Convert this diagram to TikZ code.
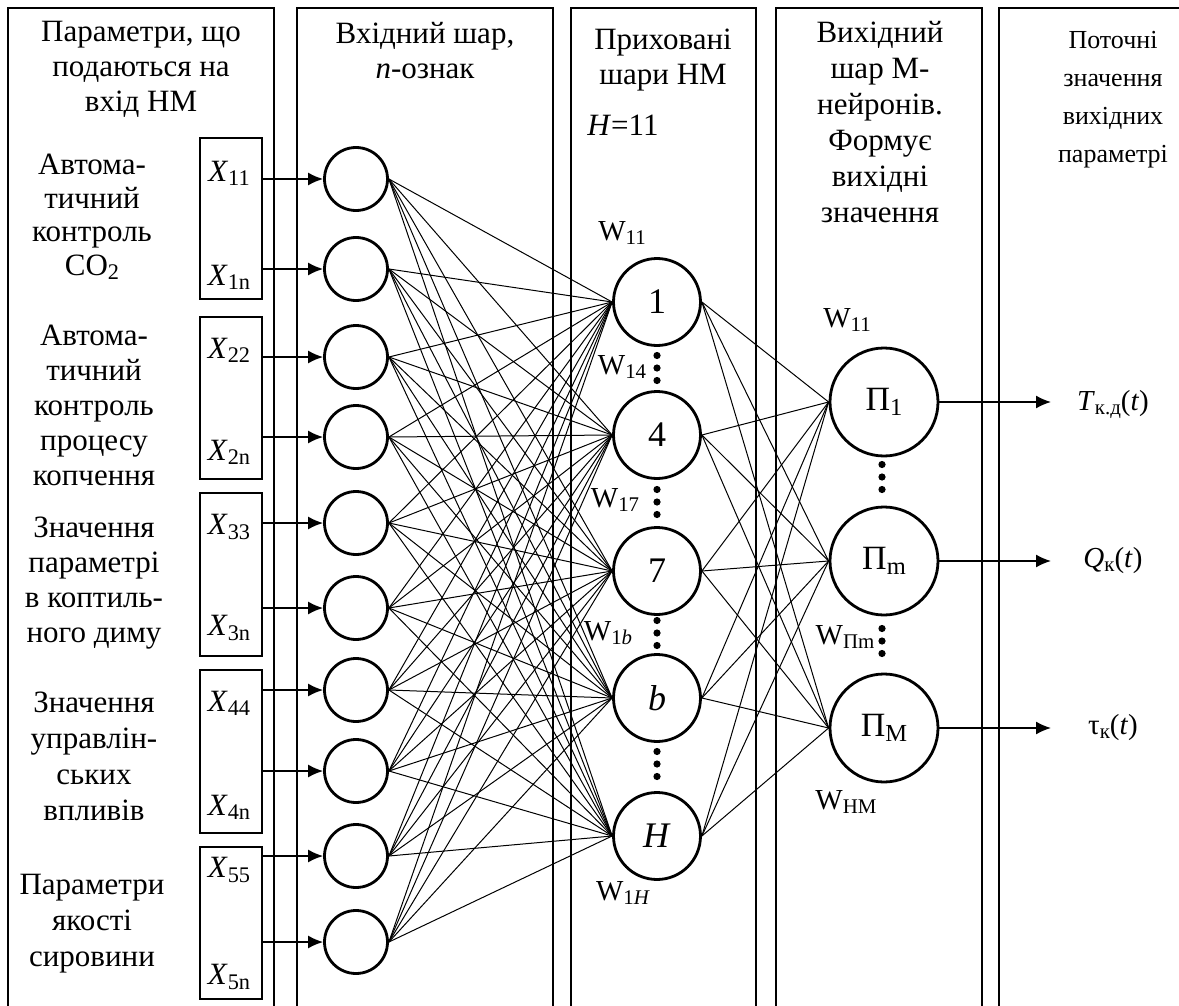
\documentclass[tikz,border=0pt]{standalone}
\usepackage{fontspec}
\setmainfont{Liberation Serif}
\usepackage{tikz}
\usetikzlibrary{arrows.meta}

\makeatletter
\newcommand{\sbs}[1]{\raisebox{-0.3ex}{\fontsize{\fpeval{0.72*\f@size}}{0}\selectfont #1}}
\makeatother

\begin{document}
\begin{tikzpicture}[x=0.5pt,y=-0.5pt,font=\fontsize{15.5}{17.5}\selectfont,
  colbox/.style={draw,line width=1pt},
  xbox/.style={draw,line width=0.9pt,minimum width=31pt,inner sep=0pt},
  inp/.style={circle,draw,line width=1.4pt,minimum size=31.5pt,inner sep=0pt},
  hid/.style={circle,draw,line width=1.4pt,minimum size=43.5pt,inner sep=0pt,font=\fontsize{18}{18}\selectfont},
  outn/.style={circle,draw,line width=1.4pt,minimum size=54pt,inner sep=0pt,font=\fontsize{17}{18}\selectfont},
  wlab/.style={font=\fontsize{14.5}{16}\selectfont},
  link/.style={line width=0.5pt},
  arr/.style={line width=0.8pt,-{Latex[length=7.5pt,width=6.5pt]}},
  dotp/.style={fill=black}]
\useasboundingbox (0,0) rectangle (1179,1006);
\clip (0,0) rectangle (1179,1006);

% columns
\draw[colbox] (8,8) rectangle (274,1040);
\draw[colbox] (297,8) rectangle (553,1040);
\draw[colbox] (571,8) rectangle (756,1040);
\draw[colbox] (776,8) rectangle (982,1040);
\draw[colbox] (999,8) rectangle (1220,1040);

% headings
\node[align=center] (hd1) at (141,69) {Параметри, що\\подаються на\\вхід НМ};
\node[align=center] (hd2) at (425,51) {Вхідний шар,\\\textit{n}-ознак};
\node[align=center] (hd3) at (663,60) {Приховані\\шари НМ};
\node (hnum) at (623,125) {\textit{H}=11};
\node[align=center,font=\fontsize{15.5}{18}\selectfont] (hd4) at (880,122) {Вихідний\\шар М-\\нейронів.\\Формує\\вихідні\\значення};
\node[align=center,font=\fontsize{13}{19}\selectfont] (hd5) at (1113,100) {Поточні\\значення\\вихідних\\параметрі};

% groups of inputs
\node[align=center,font=\fontsize{15.5}{16.8}\selectfont] (g1) at (92,217) {Автома-\\тичний\\контроль\\CO\sbs{2}};
\node[align=center] (g2) at (94,405) {Автома-\\тичний\\контроль\\процесу\\копчення};
\node[align=center] (g3) at (94,583) {Значення\\параметрі\\в коптиль-\\ного диму};
\node[align=center,font=\fontsize{15.5}{18}\selectfont] (g4) at (94,756) {Значення\\управлін-\\ських\\впливів};
\node[align=center,font=\fontsize{15.5}{18}\selectfont] (g5) at (92,924) {Параметри\\якості\\сировини};

% input boxes
\node[xbox,minimum height=80.5pt] (bx1) at (231,218.5) {};
\node[xbox,minimum height=81pt] (bx2) at (231,398) {};
\node[xbox,minimum height=81.5pt] (bx3) at (231,574.5) {};
\node[xbox,minimum height=81.5pt] (bx4) at (231,751.5) {};
\node[xbox,minimum height=76pt] (bx5) at (231,923) {};

\node (x11) at (229,173) {\textit{X}\sbs{11}};
\node (x1n) at (229,277) {\textit{X}\sbs{1n}};
\node (x22) at (229,350) {\textit{X}\sbs{22}};
\node (x2n) at (229,452) {\textit{X}\sbs{2n}};
\node (x33) at (229,527) {\textit{X}\sbs{33}};
\node (x3n) at (229,628) {\textit{X}\sbs{3n}};
\node (x44) at (229,703) {\textit{X}\sbs{44}};
\node (x4n) at (229,807) {\textit{X}\sbs{4n}};
\node (x55) at (229,870) {\textit{X}\sbs{55}};
\node (x5n) at (229,977) {\textit{X}\sbs{5n}};

% input layer
\foreach \y [count=\i] in {179,269,357,437,523,608,690,771,856,942}
  \node[inp] (in\i) at (356,\y) {};

% hidden layer
\node[hid] (h1) at (657,302) {1};
\node[hid] (h4) at (657,435) {4};
\node[hid] (h7) at (657,571) {7};
\node[hid] (hb) at (657,698) {\textit{b}};
\node[hid] (hH) at (657,836) {\textit{H}};

% output layer
\node[outn] (o1) at (884,402) {П\sbs{1}};
\node[outn] (om) at (884,561) {П\sbs{m}};
\node[outn] (oM) at (884,728) {П\sbs{M}};

% box -> input arrows
\foreach \b in {1,...,5}{
  \pgfmathtruncatemacro{\u}{2*\b-1}
  \pgfmathtruncatemacro{\l}{2*\b}
  \draw[arr] (bx\b.east |- in\u.west) -- (in\u.west);
  \draw[arr] (bx\b.east |- in\l.west) -- (in\l.west);
}

% links
\foreach \i in {1,...,10}
  \foreach \j in {1,4,7,b,H}
    \draw[link] (in\i.east) -- (h\j.west);
\foreach \j in {1,4,7,b,H}
  \foreach \k in {1,m,M}
    \draw[link] (h\j.east) -- (o\k.west);

% dots
\foreach \c in {368,502,633,764}
  \foreach \d in {-12.5,0,12.5}
    \fill[dotp] (657,\c+\d) circle (1.8pt);
\foreach \c in {477,641}
  \foreach \d in {-12.5,0,12.5}
    \fill[dotp] (882,\c+\d) circle (1.8pt);

% weights
\node[wlab] (w11) at (622,233) {W\sbs{11}};
\node[wlab] (w14) at (622,367) {W\sbs{14}};
\node[wlab] (w17) at (615,500) {W\sbs{17}};
\node[wlab] (w1b) at (608,633) {W\sbs{1\textit{b}}};
\node[wlab] (w1H) at (623,893) {W\sbs{1\textit{H}}};
\node[wlab] (v11) at (847,320) {W\sbs{11}};
\node[wlab] (vPm) at (845,637) {W\sbs{Пm}};
\node[wlab] (vHM) at (846,802) {W\sbs{HM}};

% outputs
\coordinate (t1) at (1051,402);
\coordinate (t2) at (1051,561);
\coordinate (t3) at (1051,728);
\draw[arr] (o1.east) -- (t1);
\draw[arr] (om.east) -- (t2);
\draw[arr] (oM.east) -- (t3);
\node[wlab] (y1) at (1113,404) {\textit{T}\sbs{к.д}(\textit{t})};
\node[wlab] (y2) at (1113,561) {\textit{Q}\sbs{к}(\textit{t})};
\node[wlab] (y3) at (1113,728) {τ\sbs{к}(\textit{t})};
\end{tikzpicture}
\end{document}
